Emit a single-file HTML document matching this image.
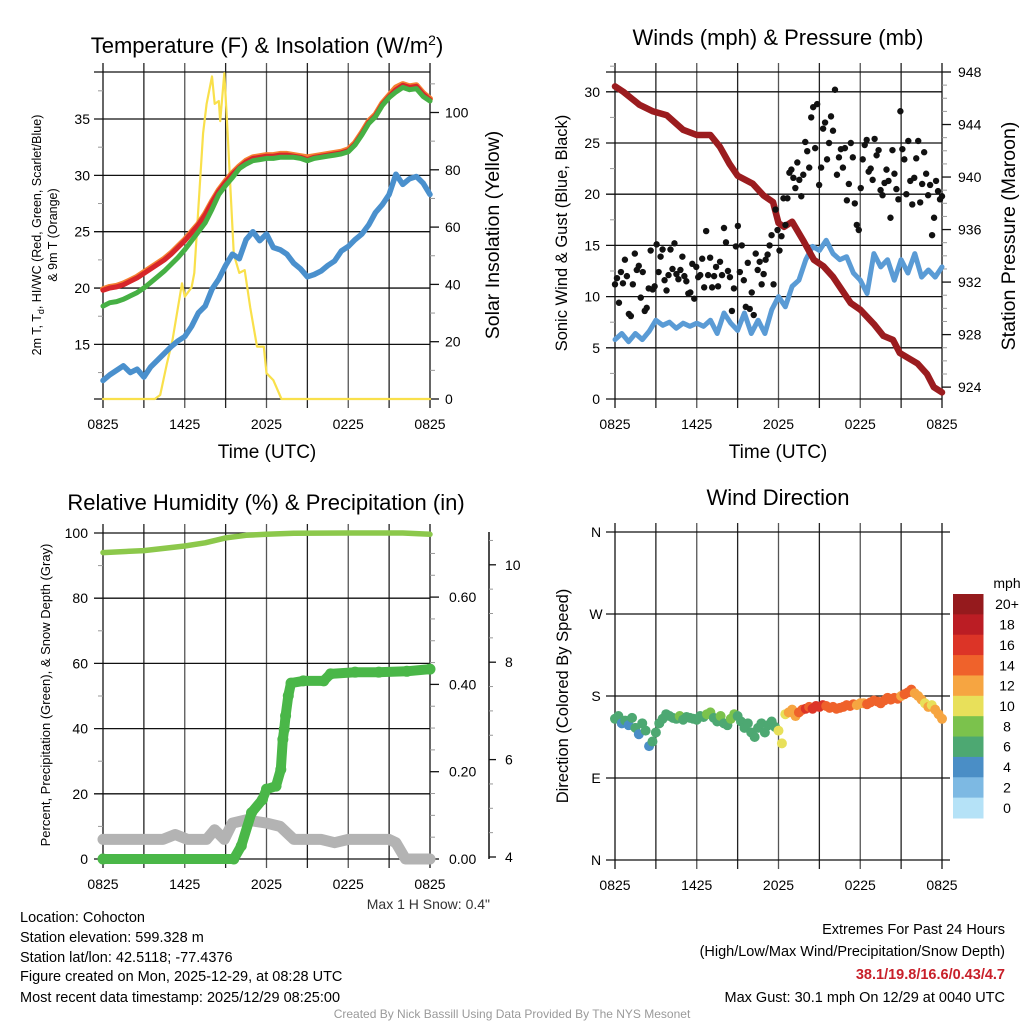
<!DOCTYPE html>
<html><head><meta charset="utf-8"><title>Mesonet Station Meteogram - Cohocton</title>
<style>
html,body{margin:0;padding:0;background:#fff;}
svg{display:block;font-family:"Liberation Sans",Arial,sans-serif;}
</style></head>
<body>
<svg id="chart" xmlns="http://www.w3.org/2000/svg" width="1024" height="1024" viewBox="0 0 1024 1024">
<rect x="0" y="0" width="1024" height="1024" fill="#fff"/>
<text x="267" y="53" font-size="22" text-anchor="middle">Temperature (F) &amp; Insolation (W/m<tspan dy="-8" font-size="14">2</tspan><tspan dy="8">)</tspan></text>
<text x="778" y="45" font-size="22" text-anchor="middle">Winds (mph) &amp; Pressure (mb)</text>
<text x="266" y="510" font-size="22" text-anchor="middle">Relative Humidity (%) &amp; Precipitation (in)</text>
<text x="778" y="505" font-size="22" text-anchor="middle">Wind Direction</text>
<text x="267" y="458" font-size="19" text-anchor="middle">Time (UTC)</text>
<text x="778" y="458" font-size="19" text-anchor="middle">Time (UTC)</text>
<text transform="translate(41,235) rotate(-90)" font-size="12.5" text-anchor="middle">2m T, T<tspan font-size="9" dy="3">d</tspan><tspan dy="-3">, HI/WC (Red, Green, Scarlet/Blue)</tspan></text>
<text transform="translate(57,235) rotate(-90)" font-size="12.5" text-anchor="middle">&amp; 9m T (Orange)</text>
<text transform="translate(499,235) rotate(-90)" font-size="19.5" text-anchor="middle">Solar Insolation (Yellow)</text>
<text transform="translate(567,233) rotate(-90)" font-size="16.5" text-anchor="middle">Sonic Wind &amp; Gust (Blue, Black)</text>
<text transform="translate(1015,236) rotate(-90)" font-size="19.5" text-anchor="middle">Station Pressure (Maroon)</text>
<text transform="translate(50,695) rotate(-90)" font-size="13" text-anchor="middle">Percent, Precipitation (Green), &amp; Snow Depth (Gray)</text>
<text transform="translate(568,696) rotate(-90)" font-size="16.5" text-anchor="middle">Direction (Colored By Speed)</text>
<text x="490" y="909" font-size="14" text-anchor="end" fill="#333">Max 1 H Snow: 0.4"</text>
<g font-size="14.5">
<text x="20" y="922">Location: Cohocton</text>
<text x="20" y="942">Station elevation: 599.328 m</text>
<text x="20" y="962">Station lat/lon: 42.5118; -77.4376</text>
<text x="20" y="981">Figure created on Mon, 2025-12-29, at 08:28 UTC</text>
<text x="20" y="1002">Most recent data timestamp: 2025/12/29 08:25:00</text>
</g>
<g font-size="14.5" text-anchor="end">
<text x="1005" y="934">Extremes For Past 24 Hours</text>
<text x="1005" y="956">(High/Low/Max Wind/Precipitation/Snow Depth)</text>
<text x="1005" y="979" fill="#c8202a" font-weight="bold">38.1/19.8/16.6/0.43/4.7</text>
<text x="1005" y="1002">Max Gust: 30.1 mph On 12/29 at 0040 UTC</text>
</g>
<text x="512" y="1018" font-size="12" text-anchor="middle" fill="#9a9a9a">Created By Nick Bassill Using Data Provided By The NYS Mesonet</text>
</svg>
<script>
const timeLabels = ["0825","1425","2025","0225","0825"];
const tempTicks = [15,20,25,30,35];
const solarTicks = [0,20,40,60,80,100];
const windTicks = [0,5,10,15,20,25,30];
const pressTicks = [924,928,932,936,940,944,948];
const rhTicks = [0,20,40,60,80,100];
const precipTicks = [0,0.2,0.4,0.6];
const precipTickLabels = ["0.00","0.20","0.40","0.60"];
const snowTicks = [4,6,8,10];
const dirTicks = [0,90,180,270,360];
const dirTickLabels = ["N","E","S","W","N"];
const speedBins = ["0","2","4","6","8","10","12","14","16","18","20+"];
const speedColors = ["#b5e2f7","#7db9e3","#4a8ec6","#4da872","#7bc24c","#e8e05a","#f6a541","#ef622b","#dc3427","#bb1d24","#951a1d"];

const tempT = [19.8,20.0,20.1,20.3,20.6,20.9,21.3,21.7,22.1,22.5,23.0,23.6,24.2,24.9,25.6,26.5,27.6,28.6,29.4,30.1,30.7,31.2,31.5,31.6,31.7,31.7,31.8,31.8,31.7,31.6,31.4,31.6,31.7,31.8,31.9,32.0,32.2,32.8,33.7,34.7,35.3,36.3,37.0,37.6,38.0,37.8,37.9,37.2,36.7];
const temp9m = [19.9,20.1,20.2,20.4,20.7,21.0,21.4,21.8,22.2,22.6,23.1,23.7,24.3,25.0,25.7,26.6,27.7,28.7,29.5,30.2,30.8,31.3,31.6,31.7,31.8,31.8,31.9,31.9,31.8,31.7,31.6,31.7,31.8,31.9,32.0,32.1,32.3,32.9,33.8,34.8,35.4,36.4,37.1,37.8,38.1,37.9,38.0,37.3,36.8];
const dewpt = [18.4,18.7,18.8,19.0,19.3,19.6,20.0,20.5,21.0,21.5,22.1,22.7,23.4,24.2,25.0,25.8,27.0,28.3,29.1,29.8,30.6,31.0,31.3,31.4,31.5,31.5,31.6,31.6,31.6,31.5,31.3,31.5,31.6,31.7,31.8,31.9,32.1,32.7,33.6,34.6,35.2,36.2,36.9,37.4,37.8,37.6,37.7,37.0,36.6];
const windChill = [11.8,12.3,12.7,13.1,12.5,12.8,12.1,13.0,13.6,14.2,14.8,15.3,15.7,16.6,17.8,18.4,19.9,20.8,22.0,23.0,22.6,24.3,25.0,24.2,24.8,23.6,23.4,23.0,22.2,21.7,21.0,21.2,21.5,22.0,22.4,23.3,23.7,24.3,24.8,25.6,26.7,27.4,28.3,30.1,29.2,29.7,29.9,29.3,28.3];
const solarHours = [0,3.8,4.2,4.7,5.1,5.8,6.0,6.5,6.7,7.1,7.35,7.6,8.0,8.2,8.5,8.6,8.9,9.1,9.6,10.0,10.4,10.8,11.3,11.8,12.0,12.5,13.1,24];
const solarVals = [0,0,1.4,12.5,20.6,40.4,35.7,39,44,74,92.8,103,112.6,103,104,97,113.7,97,50.5,44,45,32,18.3,18.3,9,6.6,0,0];
const windSpeed = [5.8,6.4,5.6,6.4,5.8,6.6,7.7,7.2,7.5,6.9,7.4,7.1,7.4,7.1,7.7,6.4,8.4,7.4,6.7,8.4,6.4,7.7,6.4,8.7,10.0,9.0,11.0,11.6,13.6,14.9,14.5,15.5,14.2,13.6,13.9,12.3,11.6,10.3,14.2,12.9,13.6,11.6,13.6,12.3,14.2,11.9,12.6,11.9,12.9];
const pressHours = [0,0.6,1.8,2.8,3.8,5,6,7,7.7,8.4,9,10.1,10.9,11.6,12,12.4,13,13.8,14.6,15.3,16,17.3,18,19,19.7,20.4,20.9,22.2,22.9,23.4,24];
const pressVals = [946.9,946.5,945.5,945.0,944.7,943.6,943.2,943.2,942.3,941.0,940.1,939.5,938.6,938.1,936.5,936.2,936.6,935.2,933.7,933.2,932.4,930.4,929.9,928.8,927.9,927.6,926.6,925.8,925.0,924.0,923.6];
const gustVals = [11.2,11.8,9.4,12.4,11.3,13.6,12.0,8.3,8.1,11.2,14.2,12.6,13.0,9.9,12.4,8.6,8.9,10.8,14.5,10.7,11.0,15.1,12.4,13.9,14.6,11.6,10.6,12.1,14.6,12.7,15.2,12.2,11.7,12.6,13.9,12.0,11.5,10.3,10.4,13.2,9.8,12.9,11.9,12.1,13.7,10.9,16.4,12.1,13.8,
 10.9,12.0,12.9,11.0,13.4,12.1,16.7,15.3,12.5,11.9,8.6,10.8,14.9,16.9,12.4,15.0,11.6,9.0,13.3,8.8,10.4,8.2,14.2,12.6,13.4,11.2,12.2,13.6,14.1,
 15.0,16.0,11.2,18.5,16.5,14.5,15.9,19.6,17.0,19.6,22.1,22.4,21.6,20.6,23.1,21.4,19.8,21.9,25.1,24.2,22.6,27.5,28.5,24.5,28.8,20.9,22.6,26.4,27.0,23.4,25.0,27.6,26.2,30.2,21.9,23.6,24.4,22.6,24.5,19.4,21.0,25.0,23.6,19.1,17.0,16.5,20.6,23.4,24.8,25.3,22.2,22.5,21.4,25.4,23.8,24.3,20.4,19.9,21.1,22.4,21.3,17.7,24.3,22.0,20.5,19.5,28.1,24.4,23.4,20.0,25.2,21.3,19.0,21.6,23.5,25.2,19.2,21.0,24.1,22.0,19.9,20.9,16.0,17.7,21.3,20.3,19.5,19.8];
const rhHours = [0,3,6,7.5,9,10.5,12,14,18,22,24];
const rhVals = [94,94.6,96,97,98.5,99.3,99.6,99.9,100,100,99.6];
const precipHours = [0,9.6,10.15,10.9,11.7,12,12.7,13.05,13.2,13.3,13.4,13.6,13.8,14.7,16.2,16.7,18.5,20.25,22.3,24];
const precipVals = [0,0,0.03,0.106,0.136,0.16,0.167,0.205,0.274,0.297,0.328,0.374,0.403,0.408,0.408,0.424,0.428,0.428,0.43,0.435];
const snowHours = [0,4.4,5.3,6.2,7.6,8.2,8.9,9.5,10.5,12,13,14,16,17,18,21,21.5,22.2,24];
const snowVals = [6,6,7.5,6,6,9,6,11,12,11,10,6,6,5,6,6,5,0,0];
const dirVals = [155,158,150,153,148,156,145,138,150,
 142,125,130,140,150,155,160,158,
 156,155,158,154,157,156,155,154,
 158,157,160,162,156,152,158,150,
 148,155,160,158,152,145,150,140,
 135,145,150,140,148,152,146,142,
 128,160,162,165,158,162,165,166,
 168,166,169,168,170,169,167,168,
 166,167,168,170,169,171,170,172,
 172,171,173,175,174,172,175,178,
 176,178,177,180,182,184,187,183,
 180,176,172,168,170,165,160,155];
const dirSpeed = [6,6,5,6,5,6,6,5,6,
 6,4,6,6,7,7,7,7,
 7,7,8,7,7,7,7,7,
 7,7,8,8,7,7,8,7,
 7,8,8,7,7,6,7,6,
 6,7,7,6,7,7,6,10,
 11,11,12,13,12,14,14,16,
 15,16,16,17,16,15,15,14,
 14,15,14,14,15,14,13,12,
 13,14,14,15,14,14,15,15,
 14,15,14,13,14,15,14,13,
 12,13,11,12,11,12,12,13];

const NS = 'http://www.w3.org/2000/svg';
const svg = document.getElementById('chart');
function mk(tag, attrs, parent) {
  const e = document.createElementNS(NS, tag);
  for (const k in attrs) e.setAttribute(k, attrs[k]);
  (parent || svg).appendChild(e);
  return e;
}
function grp(name) {
  const g = mk('g', {});
  
  
  return g;
}
function halfHours(n) { const a = []; for (let i = 0; i < n; i++) a.push(i * 0.5); return a; }
const P1 = {L:103, R:430, T:72, B:399};
const P2 = {L:615, R:942, T:72, B:399};
const P3 = {L:103, R:430, T:533, B:859};
const P4 = {L:615, R:942, T:532, B:860};
const xOf = (P, h) => P.L + h / 24 * (P.R - P.L);
const yTemp = v => 119 + (35 - v) * 11.27;
const ySolar = v => 399 - v * 2.865;
const yWind = v => 399 - v * 10.24;
const yPress = v => 72 + (948 - v) * 13.13;
const yPct = v => 859 - v * 3.26;
const yIn = v => 859 - v * 436.5;
const ySnow = v => 857 - (v - 4) * 48.7;
const yDir = d => 860 - d * (328 / 360);

function frame(P, name, hLines, hx0, hx1) {
  const g = grp(name + '-grid');
  for (let i = 0; i <= 8; i++) {
    const x = P.L + i * (P.R - P.L) / 8;
    const l = mk('line', {x1:x, x2:x, y1:P.T - 9, y2:P.B + 9, stroke:(i % 2 ? '#222' : '#555'), 'stroke-width':(i === 0 || i === 8) ? 1.8 : 1.3}, g);
    
    
  }
  hLines.forEach(y => {
    const l = mk('line', {x1:hx0, x2:hx1, y1:y, y2:y, stroke:'#111', 'stroke-width':1.3}, g);
    
    
  });
  const lt = grp(name + '-x-tick-labels');
  timeLabels.forEach((t, i) => {
    const x = P.L + i * (P.R - P.L) / 4;
    const tx = mk('text', {x:x, y:P.B + 30, 'font-size':14, 'text-anchor':'middle'}, lt);
    tx.textContent = t;
    
    
  });
}
function ticks(name, vals, labels, yf, x, side, anchor) {
  const g = grp(name);
  vals.forEach((v, i) => {
    const y = yf(v);
    const tx = mk('text', {x:x, y:y + 5, 'font-size':14, 'text-anchor':anchor}, g);
    tx.textContent = labels ? labels[i] : String(v);
    
    
  });
}
function minor(name, x1, x2, ys) {
  const g = grp(name);
  ys.forEach(y => {
    const l = mk('line', {x1:x1, x2:x2, y1:y, y2:y, stroke:'#999', 'stroke-width':1}, g);
    
    
  });
}
function line(P, hours, vals, yf, color, w, name) {
  const pts = hours.map((h, i) => xOf(P, h).toFixed(1) + ',' + yf(vals[i]).toFixed(1)).join(' ');
  const pl = mk('polyline', {points:pts, fill:'none', stroke:color, 'stroke-width':w, 'stroke-linejoin':'round', 'stroke-linecap':'round'});
  
  
  return pl;
}
function dots(P, hours, vals, yf, color, r, name) {
  const g = grp(name);
  hours.forEach((h, i) => {
    const c = mk('circle', {cx:xOf(P, h), cy:yf(vals[i]), r:r, fill:color}, g);
    
    
  });
}

frame(P1, 'temp', [P1.T, yTemp(35), yTemp(30), yTemp(25), yTemp(20), yTemp(15), P1.B], P1.L - 9, P1.R);
{
  const ys = []; for (let v = 12.5; v <= 37.5; v += 5) ys.push(yTemp(v));
  minor('temp-minor-ticks', P1.L - 5, P1.L, ys);
  const ys2 = []; for (let v = 10; v <= 110; v += 10) if (v % 20) ys2.push(ySolar(v));
  minor('solar-minor-ticks', P1.R, P1.R + 5, ys2);
  const g = grp('solar-major-ticks');
  solarTicks.forEach(v => { const l = mk('line', {x1:P1.R, x2:P1.R + 9, y1:ySolar(v), y2:ySolar(v), stroke:'#111', 'stroke-width':1.3}, g);   });
}
ticks('temp-y-tick-labels', tempTicks, null, yTemp, P1.L - 13, 'l', 'end');
ticks('solar-y-tick-labels', solarTicks, null, ySolar, P1.R + 15, 'r', 'start');
const hh = halfHours(49);
line(P1, solarHours, solarVals, ySolar, '#f9e04b', 2.2, 'solar-insolation-line');
line(P1, hh, windChill, yTemp, '#4a90cd', 5.5, 'wind-chill-line');
line(P1, hh, temp9m, yTemp, '#f58232', 6, 'temp-9m-line');
line(P1, hh, tempT, yTemp, '#d7262b', 5, 'temp-2m-line');
line(P1, hh, dewpt, yTemp, '#46b044', 5, 'dewpoint-line');

frame(P2, 'wind', [P2.T, yWind(30), yWind(25), yWind(20), yWind(15), yWind(10), yWind(5), P2.B], P2.L - 9, P2.R);
{
  const ys = []; for (let v = 2.5; v <= 32.5; v += 5) ys.push(yWind(v));
  minor('wind-minor-ticks', P2.L - 5, P2.L, ys);
  const ys2 = []; for (let v = 924; v <= 948; v += 1) if (v % 4) ys2.push(yPress(v));
  minor('pressure-minor-ticks', P2.R, P2.R + 5, ys2);
  const g = grp('pressure-major-ticks');
  pressTicks.forEach(v => { const l = mk('line', {x1:P2.R, x2:P2.R + 9, y1:yPress(v), y2:yPress(v), stroke:'#111', 'stroke-width':1.3}, g);   });
}
ticks('wind-y-tick-labels', windTicks, null, yWind, P2.L - 15, 'l', 'end');
ticks('pressure-y-tick-labels', pressTicks, null, yPress, P2.R + 16, 'r', 'start');
line(P2, hh, windSpeed, yWind, '#5a9bd5', 5, 'wind-speed-line');
line(P2, pressHours, pressVals, yPress, '#9b1c1f', 6.5, 'pressure-line');
{
  const gh = gustVals.map((v, i) => i * 24 / (gustVals.length - 1));
  dots(P2, gh, gustVals, yWind, '#111', 3.2, 'wind-gust');
}

frame(P3, 'rh', [P3.T, yPct(80), yPct(60), yPct(40), yPct(20), P3.B], P3.L - 9, P3.R);
{
  const ys = []; for (let v = 10; v <= 90; v += 20) ys.push(yPct(v));
  minor('rh-minor-ticks', P3.L - 5, P3.L, ys);
  const ys2 = []; for (let v = 0.05; v <= 0.72; v += 0.05) if (Math.round(v * 100) % 20) ys2.push(yIn(v));
  minor('precip-minor-ticks', P3.R, P3.R + 5, ys2);
  const g = grp('precip-major-ticks');
  precipTicks.forEach(v => { const l = mk('line', {x1:P3.R, x2:P3.R + 9, y1:yIn(v), y2:yIn(v), stroke:'#111', 'stroke-width':1.3}, g);   });
  const ax = mk('line', {x1:489, x2:489, y1:532, y2:859, stroke:'#111', 'stroke-width':1.5});
  
  
  const g2 = grp('snow-ticks');
  snowTicks.forEach(v => { const l = mk('line', {x1:489, x2:496, y1:ySnow(v), y2:ySnow(v), stroke:'#111', 'stroke-width':1.3}, g2);   });
  const ys3 = []; for (let v = 4.5; v <= 10.6; v += 0.5) if (v % 2) ys3.push(ySnow(v));
  minor('snow-minor-ticks', 489, 493, ys3);
}
ticks('rh-y-tick-labels', rhTicks, null, yPct, P3.L - 15, 'l', 'end');
ticks('precip-y-tick-labels', precipTicks, precipTickLabels, yIn, P3.R + 19, 'r', 'start');
ticks('snow-y-tick-labels', snowTicks, null, ySnow, 505, 'r', 'start');
line(P3, rhHours, rhVals, yPct, '#8cc84b', 5.5, 'relative-humidity-line');
line(P3, snowHours, snowVals, yPct, '#b3b3b3', 11, 'snow-depth-line');
line(P3, precipHours, precipVals, yIn, '#4ab748', 10, 'precipitation-line');
dots(P3, precipHours, precipVals, yIn, '#4ab748', 5.5, 'precipitation');

frame(P4, 'direction', [yDir(360), yDir(270), yDir(180), yDir(90), yDir(0)], P4.L - 9, P4.R + 8);
ticks('direction-y-tick-labels', dirTicks, dirTickLabels, yDir, P4.L - 19, 'l', 'middle');
{
  const g = grp('wind-direction-points');
  const n = dirVals.length;
  dirVals.forEach((d, i) => {
    const h = i * 24 / (n - 1);
    const bin = Math.min(10, Math.floor(dirSpeed[i] / 2));
    const c = mk('circle', {cx:xOf(P4, h), cy:yDir(d), r:5, fill:speedColors[bin]}, g);
    
    
  });
  const cb = grp('speed-colorbar');
  const top = 594, bh = (818 - 594) / speedBins.length;
  const m = mk('text', {x:1007, y:588, 'font-size':14, 'text-anchor':'middle'}, cb);
  m.textContent = 'mph';
  
  
  for (let k = 0; k < speedBins.length; k++) {
    const idx = speedBins.length - 1 - k;
    const r = mk('rect', {x:953, y:top + k * bh, width:30.5, height:bh + 0.5, fill:speedColors[idx]}, cb);
    
    
    const t = mk('text', {x:1007, y:top + k * bh + bh / 2 + 5, 'font-size':14, 'text-anchor':'middle'}, cb);
    t.textContent = speedBins[idx];
    
    
  }
}
</script>
</body></html>
